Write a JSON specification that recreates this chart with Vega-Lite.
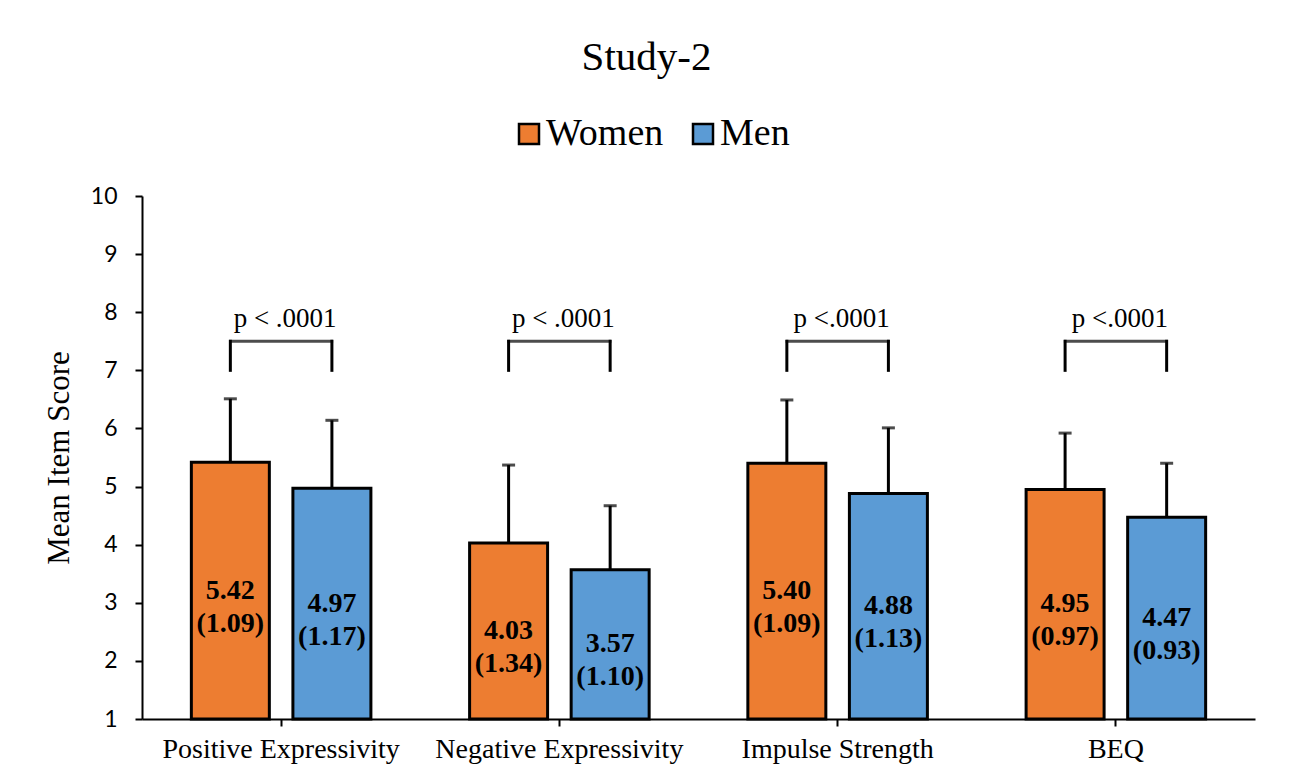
{
  "$schema": "https://vega.github.io/schema/vega-lite/v6.json",
  "width": 1113,
  "height": 523,
  "autosize": {"type": "none"},
  "padding": {"left": 142, "top": 196, "right": 35, "bottom": 64},
  "background": "white",
  "title": {"text": "Study-2", "font": "Liberation Serif", "fontSize": 41, "fontWeight": "normal", "color": "black", "anchor": "middle", "dx": -52, "offset": 36},
  "datasets": {
    "scores": [
      {"measure": "Positive Expressivity", "gender": "Women", "mean": 5.42, "sd": 1.09, "label": "5.42\n(1.09)"},
      {"measure": "Positive Expressivity", "gender": "Men", "mean": 4.97, "sd": 1.17, "label": "4.97\n(1.17)"},
      {"measure": "Negative Expressivity", "gender": "Women", "mean": 4.03, "sd": 1.34, "label": "4.03\n(1.34)"},
      {"measure": "Negative Expressivity", "gender": "Men", "mean": 3.57, "sd": 1.10, "label": "3.57\n(1.10)"},
      {"measure": "Impulse Strength", "gender": "Women", "mean": 5.40, "sd": 1.09, "label": "5.40\n(1.09)"},
      {"measure": "Impulse Strength", "gender": "Men", "mean": 4.88, "sd": 1.13, "label": "4.88\n(1.13)"},
      {"measure": "BEQ", "gender": "Women", "mean": 4.95, "sd": 0.97, "label": "4.95\n(0.97)"},
      {"measure": "BEQ", "gender": "Men", "mean": 4.47, "sd": 0.93, "label": "4.47\n(0.93)"}
    ],
    "tests": [
      {"measure": "Positive Expressivity", "p": "p < .0001"},
      {"measure": "Negative Expressivity", "p": "p < .0001"},
      {"measure": "Impulse Strength", "p": "p <.0001"},
      {"measure": "BEQ", "p": "p <.0001"}
    ]
  },
  "resolve": {"scale": {"y": "independent"}},
  "layer": [
    {
      "data": {"name": "scores"},
      "mark": {"type": "errorbar", "color": "black", "ticks": {"size": 13, "thickness": 3, "color": "black"}, "rule": {"strokeWidth": 3, "color": "black"}},
      "encoding": {
        "x": {"field": "measure", "type": "nominal", "sort": null, "title": null, "scale": {"type": "band", "paddingInner": 0, "paddingOuter": 0}},
        "xOffset": {"field": "gender", "type": "nominal", "sort": ["Women", "Men"], "scale": {"type": "band", "paddingInner": 0.232, "paddingOuter": 0.486}},
        "y": {"field": "mean", "type": "quantitative", "scale": {"domain": [1, 10], "zero": false, "nice": false}, "axis": null},
        "yError": {"field": "sd"}
      }
    },
    {
      "data": {"name": "scores"},
      "mark": {"type": "bar", "stroke": "black", "strokeWidth": 3},
      "encoding": {
        "x": {"field": "measure", "type": "nominal", "sort": null, "title": null, "scale": {"type": "band", "paddingInner": 0, "paddingOuter": 0}},
        "xOffset": {"field": "gender", "type": "nominal", "sort": ["Women", "Men"], "scale": {"type": "band", "paddingInner": 0.232, "paddingOuter": 0.486}},
        "y": {"field": "mean", "type": "quantitative", "scale": {"domain": [1, 10], "zero": false, "nice": false},
          "axis": {"title": "Mean Item Score", "values": [1, 2, 3, 4, 5, 6, 7, 8, 9, 10], "grid": false, "labelFont": "Lato", "labelFontSize": 23, "labelColor": "black", "labelPadding": 18, "domainColor": "black", "domainWidth": 2, "tickColor": "black", "tickWidth": 2, "tickSize": 7, "titleFont": "Liberation Serif", "titleFontSize": 31, "titleFontWeight": "normal", "titleColor": "black", "titlePadding": 15}},
        "y2": {"datum": 1},
        "color": {"field": "gender", "type": "nominal", "scale": {"domain": ["Women", "Men"], "range": ["#ED7D31", "#5B9BD5"]},
          "legend": {"title": null, "orient": "none", "direction": "horizontal", "legendX": 368, "legendY": -81, "padding": 0, "symbolType": "square", "symbolSize": 400, "symbolStrokeColor": "black", "symbolStrokeWidth": 2.5, "symbolOpacity": 1, "labelFont": "Liberation Serif", "labelFontSize": 38, "labelColor": "black", "labelOffset": -2, "columnPadding": 20, "labelLimit": 300}}
      }
    },
    {
      "data": {"name": "scores"},
      "mark": {"type": "rule", "color": "black", "strokeWidth": 3, "strokeCap": "square"},
      "encoding": {
        "x": {"field": "measure", "type": "nominal", "sort": null, "title": null, "scale": {"type": "band", "paddingInner": 0, "paddingOuter": 0}},
        "xOffset": {"field": "gender", "type": "nominal", "sort": ["Women", "Men"], "scale": {"type": "band", "paddingInner": 0.232, "paddingOuter": 0.486}},
        "y": {"datum": 7.0, "type": "quantitative", "scale": {"domain": [1, 10], "zero": false, "nice": false}, "axis": null},
        "y2": {"datum": 7.5}
      }
    },
    {
      "data": {"name": "tests"},
      "mark": {"type": "tick", "color": "black", "size": 104, "thickness": 3},
      "encoding": {
        "x": {"field": "measure", "type": "nominal", "sort": null, "title": null, "scale": {"type": "band", "paddingInner": 0, "paddingOuter": 0}},
        "y": {"datum": 7.5, "type": "quantitative", "scale": {"domain": [1, 10], "zero": false, "nice": false}, "axis": null}
      }
    },
    {
      "data": {"name": "tests"},
      "mark": {"type": "text", "font": "Liberation Serif", "fontSize": 27, "color": "black", "baseline": "alphabetic", "align": "center", "dx": 4},
      "encoding": {
        "x": {"field": "measure", "type": "nominal", "sort": null, "title": null, "scale": {"type": "band", "paddingInner": 0, "paddingOuter": 0}},
        "y": {"datum": 7.75, "type": "quantitative", "scale": {"domain": [1, 10], "zero": false, "nice": false}, "axis": null},
        "text": {"field": "p"}
      }
    },
    {
      "data": {"name": "scores"},
      "mark": {"type": "text", "font": "Liberation Serif", "fontSize": 28, "fontWeight": "bold", "color": "black", "baseline": "middle", "align": "center", "lineBreak": "\n", "lineHeight": 33},
      "encoding": {
        "x": {"field": "measure", "type": "nominal", "sort": null, "title": null, "scale": {"type": "band", "paddingInner": 0, "paddingOuter": 0}},
        "xOffset": {"field": "gender", "type": "nominal", "sort": ["Women", "Men"], "scale": {"type": "band", "paddingInner": 0.232, "paddingOuter": 0.486}},
        "y": {"field": "mean", "type": "quantitative", "scale": {"domain": [1, 19], "zero": false, "nice": false}, "axis": null},
        "text": {"field": "label"}
      }
    }
  ],
  "config": {
    "view": {"stroke": null},
    "axisX": {"labelAngle": 0, "labelFont": "Liberation Serif", "labelFontSize": 28, "labelColor": "black", "labelLimit": 500, "labelPadding": 9, "domainColor": "black", "domainWidth": 2, "tickColor": "black", "tickWidth": 2, "tickSize": 7, "grid": false}
  }
}
